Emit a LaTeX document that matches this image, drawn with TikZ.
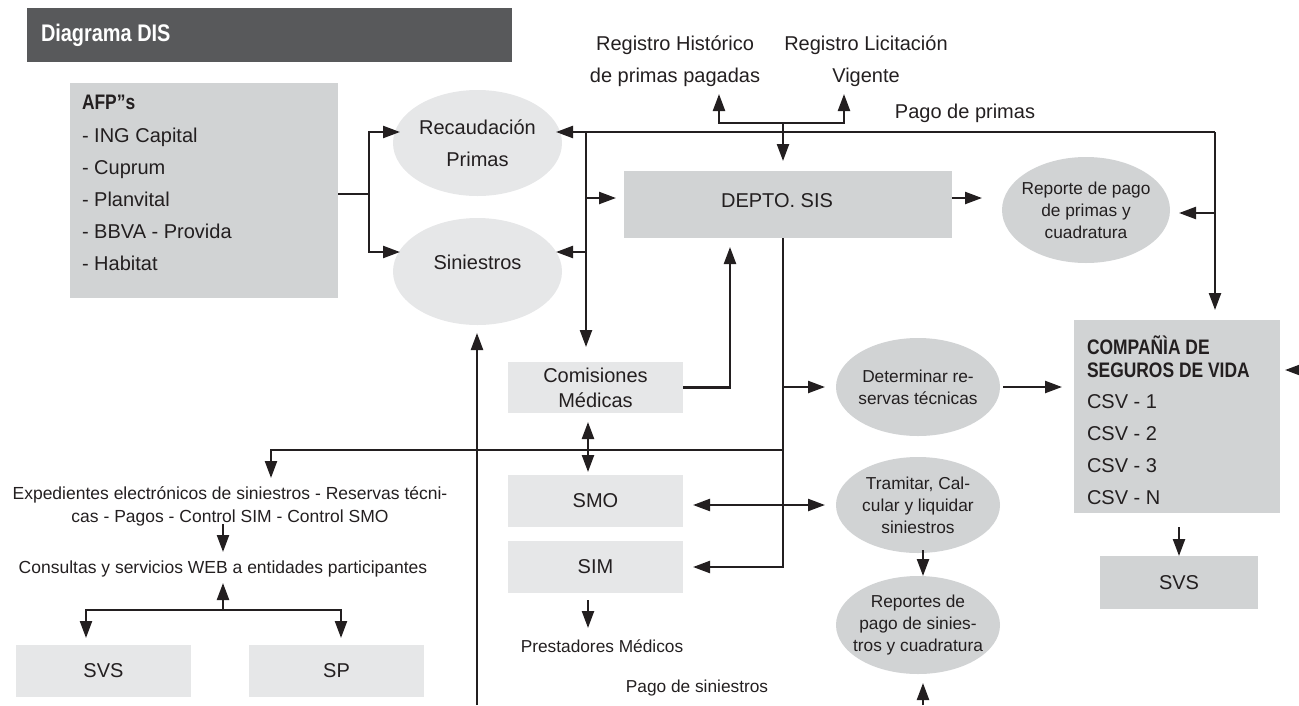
\documentclass[tikz,border=0pt]{standalone}
\usepackage{fontspec}
\setmainfont{Liberation Sans}
\newfontfamily\cbf{Liberation Sans}[FakeStretch=0.83]
\usetikzlibrary{arrows.meta,calc,shapes.geometric}
\definecolor{dk}{HTML}{58595B}
\definecolor{mid}{HTML}{D1D3D4}
\definecolor{lt}{HTML}{E6E7E8}
\definecolor{ink}{HTML}{231F20}
\begin{document}
\begin{tikzpicture}[x=1pt,y=-1pt,
  every node/.style={inner sep=0pt, outer sep=0pt, text=ink},
  ln/.style={draw=ink, line width=2.3pt},
  arr/.style={ln, -{Triangle[length=17pt,width=12pt]}},
  darr/.style={ln, {Triangle[length=17pt,width=12pt]}-{Triangle[length=17pt,width=12pt]}},
  box/.style={rectangle, fill=#1},
  ell/.style={ellipse, fill=#1},
  big/.style={font=\fontsize{20}{32}\selectfont},
  el/.style={font=\fontsize{17.3}{22}\selectfont, align=center},
  sm/.style={font=\fontsize{17.5}{23}\selectfont},
  ttl/.style={font=\cbf\bfseries\fontsize{24}{28}\selectfont, text=white},
]
\useasboundingbox (0,0) rectangle (1299,705);

% ---------- nodes ----------
\node[box=dk, minimum width=485pt, minimum height=54pt,
      label={[ttl, anchor=west, xshift=14pt]west:Diagrama DIS}] (title) at (269.5,35) {};

\node[box=mid, minimum width=268pt, minimum height=215pt] (afp) at (204,190.5) {};
\node[anchor=north west, align=left, big] (afptxt) at (82,95)
  {{\cbf\bfseries\fontsize{21}{32}\selectfont AFP”s}\\[1pt]- ING Capital\\- Cuprum\\- Planvital\\- BBVA - Provida\\- Habitat};

\node[ell=lt, minimum width=169pt, minimum height=106pt,
      label={[big, align=center]center:Recaudación\\Primas}] (rec) at (477.5,143) {};
\node[ell=lt, minimum width=169pt, minimum height=107pt,
      label={[big, yshift=9pt]center:Siniestros}] (sin) at (477.5,271.5) {};

\node[box=mid, minimum width=328pt, minimum height=67pt,
      label={[big, xshift=-11pt, yshift=4pt]center:DEPTO. SIS}] (depto) at (788,204.5) {};
\node[ell=mid, minimum width=168pt, minimum height=106pt,
      label={[el]center:Reporte de pago\\de primas y\\cuadratura}] (rep) at (1086,210) {};

\node[box=lt, minimum width=175pt, minimum height=51pt, align=center,
      font=\fontsize{20}{25}\selectfont] (com) at (595.5,387.5) {Comisiones\\Médicas};
\node[box=lt, minimum width=175pt, minimum height=52pt, big] (smo) at (595.5,501) {SMO};
\node[box=lt, minimum width=175pt, minimum height=52pt, big] (sim) at (595.5,567) {SIM};

\node[ell=mid, minimum width=164pt, minimum height=98pt,
      label={[el]center:Determinar re-\\servas técnicas}] (det) at (918,387) {};
\node[ell=mid, minimum width=164pt, minimum height=96pt,
      label={[el]center:Tramitar, Cal-\\cular y liquidar\\siniestros}] (tra) at (918,505) {};
\node[ell=mid, minimum width=164pt, minimum height=98pt,
      label={[el]center:Reportes de\\pago de sinies-\\tros y cuadratura}] (rps) at (918,625) {};

\node[box=mid, minimum width=206pt, minimum height=193pt] (csv) at (1177,416.5) {};
\node[anchor=north west, align=left, big] (csvtxt) at (1087,336)
  {{\cbf\bfseries\fontsize{21}{22}\selectfont COMPAÑÌA DE}\\[-9pt]{\cbf\bfseries\fontsize{21}{22}\selectfont SEGUROS DE VIDA}\\[-1pt]CSV - 1\\CSV - 2\\CSV - 3\\CSV - N};

\node[box=mid, minimum width=158pt, minimum height=53pt, big] (svsr) at (1179,582.5) {SVS};
\node[box=lt, minimum width=175pt, minimum height=52pt, big] (svsl) at (103.5,671) {SVS};
\node[box=lt, minimum width=175pt, minimum height=52pt, big] (sp) at (336.5,671) {SP};

\node[big, anchor=base, align=center] (reghist) at (675,82) {Registro Histórico\\de primas pagadas};
\node[big, anchor=base, align=center] (reglic) at (866,82) {Registro Licitación\\Vigente};
\node[big, anchor=base] (pagop) at (965,118) {Pago de primas};
\node[sm, anchor=base, align=center] (exped) at (230,522)
  {Expedientes electrónicos de siniestros - Reservas técni-\\cas - Pagos - Control SIM - Control SMO};
\node[sm, anchor=base] (consul) at (223,573) {Consultas y servicios WEB a entidades participantes};
\node[font=\fontsize{17.3}{22}\selectfont, anchor=base] (prest) at (602,652) {Prestadores Médicos};
\node[font=\fontsize{17.3}{22}\selectfont, anchor=base] (pagos) at (697,692) {Pago de siniestros};

% ---------- coordinates ----------
\coordinate (jafp) at (369,194);
\coordinate (jtop) at (586,132);
\coordinate (jR) at (1215,132);
\coordinate (jreg) at (783,123);
\coordinate (tRH) at (719,94);
\coordinate (tRL) at (844,94);
\coordinate (sTop) at ($(depto.south)+(-5,0)$);
\coordinate (jExp) at (271,450);
\coordinate (tExp) at (271,478);
\coordinate (tDep) at ($(depto.west)+(-8,-6.5)$);
\coordinate (tSinR) at ($(sin.east)+(-6,-19.5)$);
\coordinate (tRecR) at ($(rec.east)+(-6,-11)$);
\coordinate (tRep) at ($(rep.east)+(9,3)$);
\coordinate (dE) at ($(depto.east)+(0,-6.5)$);
\coordinate (bot1) at (477,705);
\coordinate (bot2) at (923,705);
\coordinate (edge) at (1299,370);
\coordinate (jweb) at (223,610);
\coordinate (e1) at (223,524);
\coordinate (e2) at (223,552);

% ---------- connectors ----------
\draw[ln] (afp.east |- jafp) -- (jafp);
\draw[arr] (jafp) |- ($(rec.west)+(7,-11)$);
\draw[arr] (jafp) |- ($(sin.west)+(7,-19.5)$);

\draw[ln] (jtop) -- (jR);
\draw[arr] (jtop) -- (tRecR);
\draw[arr, shorten >=15pt] (jtop) -- (com.north -| jtop);
\draw[arr] (jtop |- tDep) -- (tDep);
\draw[arr] (jtop |- tSinR) -- (tSinR);
\draw[arr, shorten >=10pt] (jR) -- (csv.north -| jR);
\draw[arr] (jR |- tRep) -- (tRep);

\draw[arr] (jreg) -| (tRH);
\draw[arr] (jreg) -| (tRL);
\draw[arr, shorten >=10pt] (jreg) -- (depto.north -| jreg);

\draw[arr, shorten >=20pt] (dE) -- (dE -| rep.west);
\draw[arr, shorten >=9pt] (com.east) -| ($(depto.south)+(-58,0)$);

\draw[arr, shorten >=10pt] (sTop) |- (sim.east);
\draw[arr, shorten >=11pt] (sTop |- det) -- (det.west);
\draw[arr] (sTop |- jExp) -| (tExp);
\draw[darr, shorten <=10pt, shorten >=11pt] (smo.east |- tra.west) -- (tra.west);
\draw[darr, shorten <=9pt, shorten >=3pt] ($(com.south)+(-7.5,0)$) -- ($(smo.north)+(-7.5,0)$);
\draw[arr, shorten <=7pt] ($(sim.south)+(-7.5,0)$) -- ++(0,35);

\draw[arr, shorten >=8pt] (bot1) -- (sin.south -| bot1);
\draw[arr, shorten <=3pt, shorten >=12pt] (det.east) -- (csv.west |- det.east);
\draw[arr] ($(tra.south)+(5,-3)$) -- ($(rps.north)+(5,0)$);
\draw[arr, shorten >=9pt] (bot2) -- (rps.south -| bot2);

\draw[arr, shorten <=14pt] (csv.south -| svsr) -- (svsr.north);
\draw[arr] (edge) -- ($(csv.east |- edge)+(5,0)$);

\draw[arr] (e1) -- (e2);
\draw[arr] (jweb) -- ++(0,-27);
\draw[arr] (jweb) -| ($(svsl.north)+(-17.5,-7)$);
\draw[arr] (jweb) -| ($(sp.north)+(4.5,-7)$);
\end{tikzpicture}
\end{document}
